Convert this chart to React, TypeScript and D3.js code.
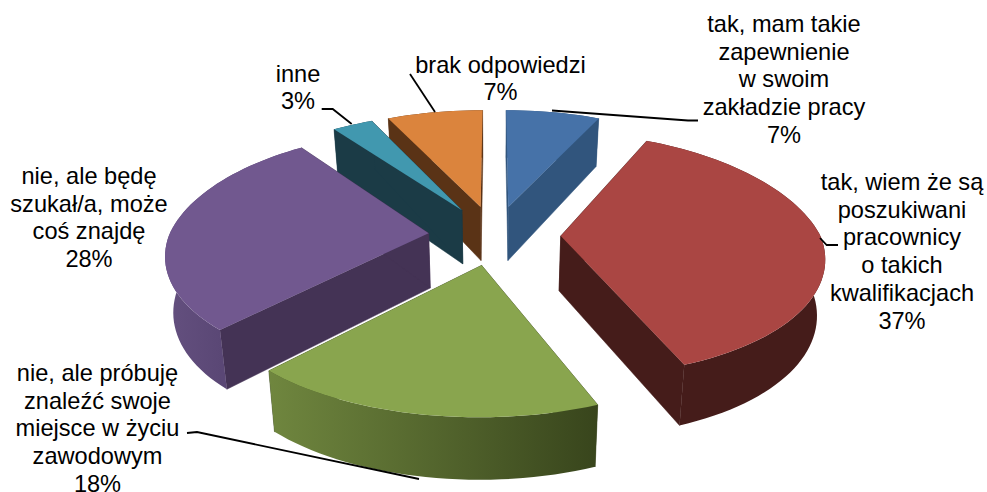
import React from "react";
import * as d3 from "d3";

const categories = ["tak, mam takie zapewnienie", "tak, wiem że są poszukiwani", "nie, ale próbuję", "nie, ale będę szukał/a", "inne", "brak odpowiedzi"];
const values = [7, 37, 18, 28, 3, 7];
const topColors = ["#4672A8", "#AA4643", "#89A54E", "#71588F", "#4198AF", "#DB843D"];
const wallColors = ["#31557D", "#451C1A", "#3A4720", "#443355", "#1B3B46", "#5A3316"];
const rimStart = ["#31557D", "#451C1A", "#70873F", "#64507F", "#1B3B46", "#5A3316"];
const rimEnd = ["#31557D", "#451C1A", "#38451C", "#5A4775", "#1B3B46", "#5A3316"];
const drawOrder = [5, 4, 0, 3, 1, 2];

const labelLines = [
  ["tak, mam takie", "zapewnienie", "w swoim", "zakładzie pracy", "7%"],
  ["tak, wiem że są", "poszukiwani", "pracownicy", "o takich", "kwalifikacjach", "37%"],
  ["nie, ale próbuję", "znaleźć swoje", "miejsce w życiu", "zawodowym", "18%"],
  ["nie, ale będę", "szukał/a, może", "coś znajdę", "28%"],
  ["inne", "3%"],
  ["brak odpowiedzi", "7%"],
];
const labelX = [784, 902, 97.5, 89, 298, 500.5];
const labelY = [32, 190, 381, 184, 81.5, 72.7];
const leaders: [number, number][][] = [
  [[552, 110.5], [688, 120.5], [698, 120.5]],
  [[820, 238], [826.7, 245], [838, 245]],
  [[187, 433], [197, 432], [419, 479]],
  [],
  [[351.7, 124], [332.7, 109], [321.7, 109]],
  [[435, 112], [410, 74]],
];

const CX = 494.5, CY = 235, AX = 265, BY = 119, EXPLODE = 0.25, PERSP = 0.15;

type P = [number, number];
function top(u: number, v: number): P {
  const w = 1 + PERSP * v;
  const wx = w + (u < 0 ? 0.02 : 0.04) * Math.max(v, 0);
  const us = u * (1 - 0.011 * u * u);
  return [CX + (AX * us) / wx, CY - (BY * v) / w];
}
function bottom(u: number, v: number): P {
  const [x, y] = top(u, v);
  return [CX + (x - CX) * 0.975, y + 55 - 6 * v];
}

const line = d3.line<P>();
const pie = d3.pie<number>().sort(null)(values);

export default function App() {
  return (
    <svg width={987} height={492} style={{ position: "absolute", left: 0, top: 0, background: "#fff" }}>
      <defs>
        {pie.map((a, i) => {
          return (
            <linearGradient key={i} id={`rim${i}`} gradientUnits="userSpaceOnUse" x1={i === 2 ? 266 : 166} x2={i === 2 ? 598 : 222} y1={0} y2={0}>
              <stop offset="0" stopColor={rimStart[i]} />
              <stop offset="1" stopColor={rimEnd[i]} />
            </linearGradient>
          );
        })}
      </defs>
      {drawOrder.map((i) => {
        const a = pie[i];
        const mid = (a.startAngle + a.endAngle) / 2;
        const ou = EXPLODE * Math.sin(mid), ov = EXPLODE * Math.cos(mid);
        const n = Math.max(4, Math.ceil(((a.endAngle - a.startAngle) * 180) / Math.PI / 2));
        const rim = d3.range(n + 1).map((k) => {
          const t = a.startAngle + ((a.endAngle - a.startAngle) * k) / n;
          return [ou + Math.sin(t), ov + Math.cos(t)] as P;
        });
        const topRim = rim.map((p) => top(p[0], p[1]));
        const botRim = rim.map((p) => bottom(p[0], p[1]));
        const apexT = top(ou, ov), apexB = bottom(ou, ov);
        const wallA = [apexT, topRim[0], botRim[0], apexB];
        const wallB = [apexT, topRim[n], botRim[n], apexB];
        const side = [...topRim, ...botRim.slice().reverse()];
        return (
          <g key={categories[i]}>
            <path d={line(wallA)! + "Z"} fill={wallColors[i]} stroke={wallColors[i]} strokeWidth={0.5} />
            <path d={line(wallB)! + "Z"} fill={wallColors[i]} stroke={wallColors[i]} strokeWidth={0.5} />
            <path d={line(side)! + "Z"} fill={`url(#rim${i})`} />
            <path d={line([apexT, ...topRim])! + "Z"} fill={topColors[i]} />
          </g>
        );
      })}
      {leaders.map((pts, i) =>
        pts.length ? <path key={i} d={line(pts as P[])!} fill="none" stroke="#000" strokeWidth={1.8} /> : null
      )}
      {labelLines.map((ls, i) => (
        <text key={i} textAnchor="middle" fontFamily="'Liberation Sans', Arial, sans-serif" fontSize={23.6} fill="#000">
          {ls.map((s, k) => (
            <tspan key={k} x={labelX[i]} y={labelY[i] + k * 27.7}>{s}</tspan>
          ))}
        </text>
      ))}
    </svg>
  );
}
